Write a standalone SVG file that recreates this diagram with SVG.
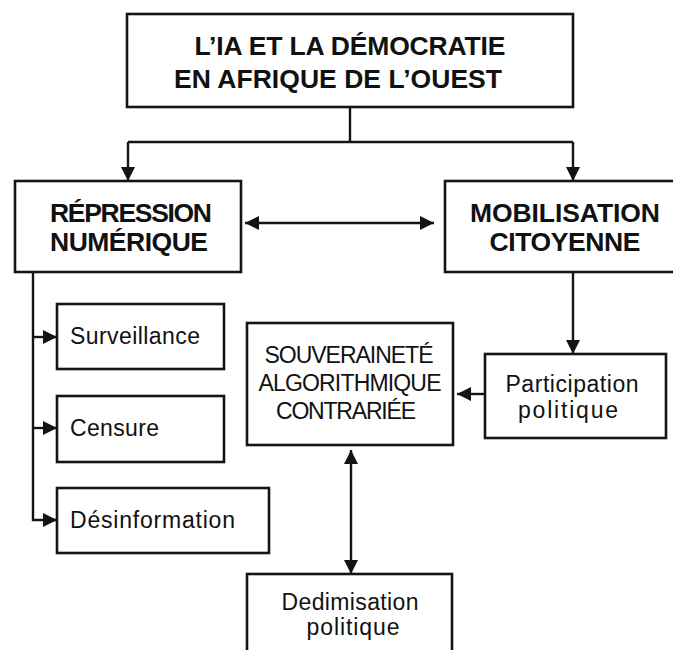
<svg xmlns="http://www.w3.org/2000/svg" width="673" height="650" viewBox="0 0 673 650">
<defs>
<style>
.box{fill:#fff;stroke:#141414;stroke-width:2.6}
.ln{fill:none;stroke:#141414;stroke-width:2.4}
.b{font-family:"Liberation Sans",Arial,sans-serif;font-weight:bold;font-size:26.5px;fill:#111;text-anchor:middle}
.r{font-family:"Liberation Sans",Arial,sans-serif;font-size:23px;fill:#111}
.rc{font-family:"Liberation Sans",Arial,sans-serif;font-size:23px;fill:#111;text-anchor:middle}
</style>
<marker id="ah" markerWidth="15" markerHeight="15" refX="14" refY="7" orient="auto-start-reverse" markerUnits="userSpaceOnUse">
<path d="M0,0 L14,7 L0,14 Z" fill="#141414"/>
</marker>
</defs>
<rect width="673" height="650" fill="#fff"/>

<g id="connectors">
<path class="ln" d="M350,107 V142"/>
<path class="ln" d="M128,142 H573"/>
<path class="ln" d="M128,142 V181" marker-end="url(#ah)"/>
<path class="ln" d="M573,142 V181" marker-end="url(#ah)"/>
<path class="ln" d="M245,223 H434" marker-start="url(#ah)" marker-end="url(#ah)"/>
<path class="ln" d="M33,272 V520 H57" marker-end="url(#ah)"/>
<path class="ln" d="M33,337 H57" marker-end="url(#ah)"/>
<path class="ln" d="M33,428 H57" marker-end="url(#ah)"/>
<path class="ln" d="M573,272 V354" marker-end="url(#ah)"/>
<path class="ln" d="M485,394 H457" marker-end="url(#ah)"/>
<path class="ln" d="M351,450 V574" marker-start="url(#ah)" marker-end="url(#ah)"/>
</g>

<g id="title">
<rect class="box" x="127" y="14" width="446" height="93"/>
<text class="b" x="350" y="55" font-size="28" textLength="311">L’IA ET LA DÉMOCRATIE</text>
<text class="b" x="338" y="88" font-size="28" textLength="328">EN AFRIQUE DE L’OUEST</text>
</g>

<g id="repression">
<rect class="box" x="15" y="181" width="226" height="91"/>
<text class="b" x="131" y="222" textLength="162">RÉPRESSION</text>
<text class="b" x="129" y="251" textLength="158">NUMÉRIQUE</text>
</g>

<g id="mobilisation">
<rect class="box" x="445" y="181" width="240" height="91"/>
<text class="b" x="565" y="222" textLength="190">MOBILISATION</text>
<text class="b" x="565" y="251" textLength="151">CITOYENNE</text>
</g>

<g id="surveillance">
<rect class="box" x="57" y="304" width="167" height="65"/>
<text class="r" x="70" y="344" textLength="130">Surveillance</text>
</g>

<g id="censure">
<rect class="box" x="57" y="396" width="167" height="66"/>
<text class="r" x="70" y="436" textLength="89">Censure</text>
</g>

<g id="desinformation">
<rect class="box" x="57" y="488" width="212" height="65"/>
<text class="r" x="70" y="528" textLength="165">Désinformation</text>
</g>

<g id="souverainete">
<rect class="box" x="247" y="323" width="206" height="122"/>
<text class="rc" x="349" y="363" textLength="169">SOUVERAINETÉ</text>
<text class="rc" x="350" y="391" textLength="183">ALGORITHMIQUE</text>
<text class="rc" x="346" y="419" textLength="140">CONTRARIÉE</text>
</g>

<g id="participation">
<rect class="box" x="485" y="354" width="181" height="84"/>
<text class="rc" x="572" y="392" textLength="133">Participation</text>
<text class="rc" x="568" y="418" textLength="100">politique</text>
</g>

<g id="dedimisation">
<rect class="box" x="247" y="574" width="205" height="90"/>
<text class="rc" x="350" y="610" textLength="137">Dedimisation</text>
<text class="rc" x="353" y="635" textLength="93">politique</text>
</g>
</svg>
